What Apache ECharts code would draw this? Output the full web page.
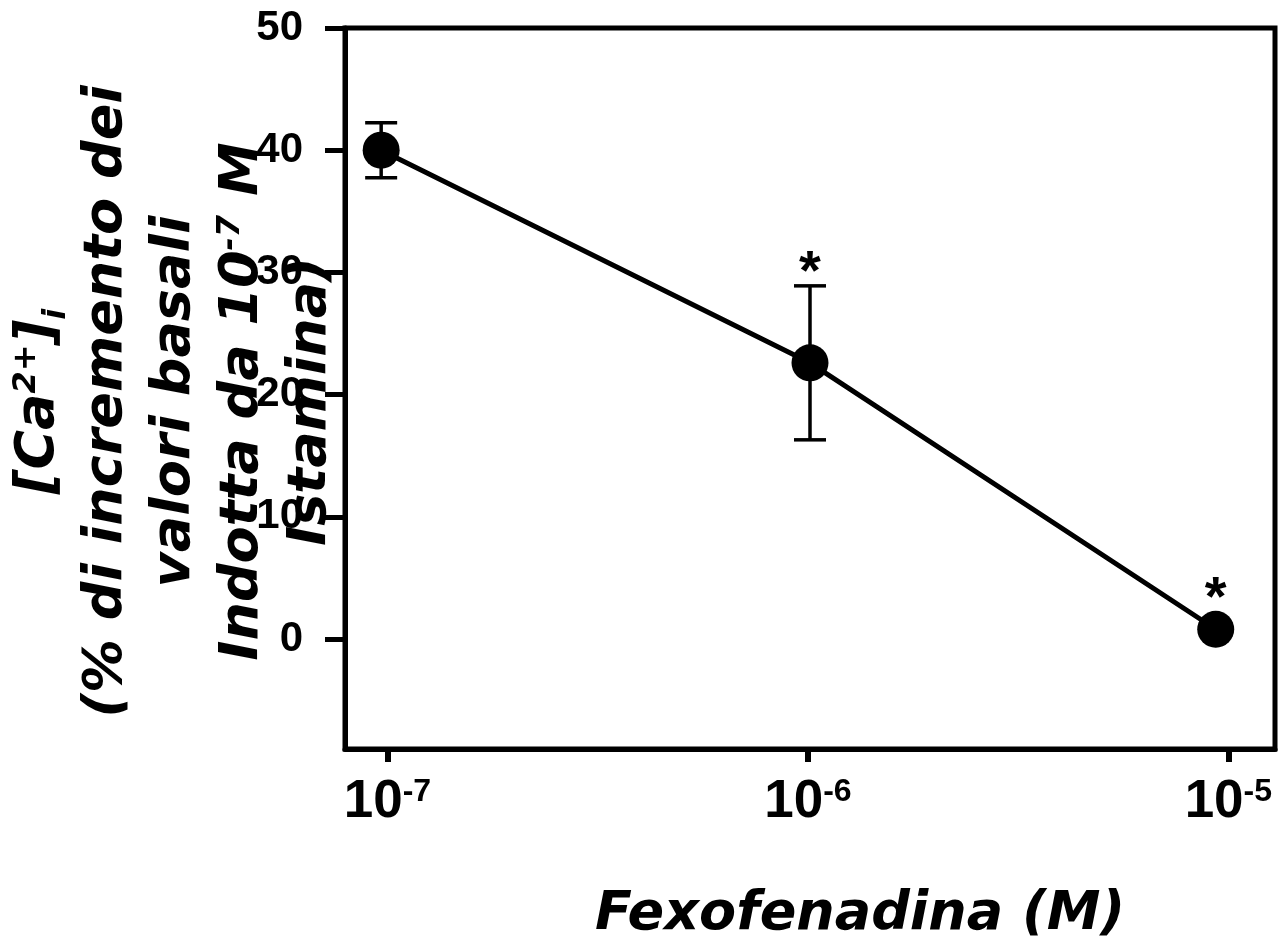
<!DOCTYPE html>
<html><head><meta charset="utf-8">
<script src="https://cdn.jsdelivr.net/npm/echarts@6/dist/echarts.min.js"></script>
<style>html,body{margin:0;padding:0;background:#fff}#c{width:1285px;height:937px}</style>
</head><body><div id="c"></div>
<script>
// Data (x stored as log10 of molar concentration)
const logConc = [-7.015, -5.995, -5.03];
const caResp = [40, 22.6, 0.8];
const caSem = [2.25, 6.3, 0];
const signif = ['', '*', '*'];
const xTickExp = [-7, -6, -5];
const yTicks = [0, 10, 20, 30, 40, 50];
const xTitle = 'Fexofenadina (M)';
const yTitleLines = ['[Ca{sup|2+}]{sub|i}', '(% di incremento dei', 'valori basali', 'Indotta da 10{sup|-7} M', 'Istamina)'];

const titleFont = {fontFamily: 'DejaVu Sans', fontWeight: 'bold', fontStyle: 'italic', color: '#000'};
const chart = echarts.init(document.getElementById('c'), null, {renderer: 'canvas'});
chart.setOption({
  animation: false,
  backgroundColor: '#fff',
  grid: {left: 345, right: 10, top: 28, bottom: 188, show: true, borderColor: '#000', borderWidth: 5, containLabel: false, outerBoundsMode: 'none'},
  xAxis: {
    type: 'value', min: -7.101, max: -4.889,
    axisLine: {show: true, onZero: false, lineStyle: {color: '#000', width: 5}},
    axisTick: {show: true, length: 13, lineStyle: {color: '#000', width: 6}, customValues: xTickExp},
    splitLine: {show: false},
    axisLabel: {
      customValues: xTickExp, margin: 27,
      formatter: v => '{b|10}{s|' + v + '}',
      rich: {
        b: {fontFamily: 'Liberation Sans', fontWeight: 'bold', fontSize: 53, color: '#000'},
        s: {fontFamily: 'Liberation Sans', fontWeight: 'bold', fontSize: 32, color: '#000', verticalAlign: 'top'}
      }
    },
    name: xTitle, nameLocation: 'middle', nameGap: 139, nameMoveOverlap: false,
    nameTextStyle: Object.assign({fontSize: 54, padding: [0, 0, 0, 100]}, titleFont)
  },
  yAxis: {
    type: 'value', min: -9, max: 50,
    axisLine: {show: true, onZero: false, lineStyle: {color: '#000', width: 5}},
    axisTick: {show: true, length: 20, lineStyle: {color: '#000', width: 5}, customValues: yTicks},
    splitLine: {show: false},
    axisLabel: {customValues: yTicks, margin: 42, fontFamily: 'Liberation Sans', fontWeight: 'bold', fontSize: 42, color: '#000'},
    name: yTitleLines.join('\n'), nameLocation: 'middle', nameRotate: 90, nameGap: 0, nameMoveOverlap: false,
    nameTextStyle: Object.assign({fontSize: 54, lineHeight: 68, padding: [0, 26, 0, 0],
      rich: {
        sup: Object.assign({fontSize: 32, lineHeight: 40, verticalAlign: 'top', padding: [6, 0, 0, 0]}, titleFont),
        sub: Object.assign({fontSize: 32, lineHeight: 40, verticalAlign: 'bottom'}, titleFont)
      }}, titleFont)
  },
  series: [
    {
      type: 'custom', z: 2,
      data: logConc.map((x, i) => [x, caResp[i], caSem[i]]),
      encode: {x: 0, y: 1},
      renderItem: (params, api) => {
        const x = api.value(0), v = api.value(1), e = api.value(2);
        const pc = api.coord([x, v]);
        const top = api.coord([x, v + e]);
        const bot = api.coord([x, v - e]);
        const st = {stroke: '#000', lineWidth: 3.5};
        const children = [];
        if (e > 0) {
          children.push({type: 'line', shape: {x1: pc[0], y1: top[1], x2: pc[0], y2: bot[1]}, style: st});
          children.push({type: 'line', shape: {x1: pc[0] - 16, y1: top[1], x2: pc[0] + 16, y2: top[1]}, style: st});
          children.push({type: 'line', shape: {x1: pc[0] - 16, y1: bot[1], x2: pc[0] + 16, y2: bot[1]}, style: st});
        }
        const s = signif[params.dataIndex];
        if (s) {
          children.push({type: 'text', style: {text: s, x: pc[0], y: Math.min(top[1], pc[1] - 18) - 12,
            align: 'center', verticalAlign: 'middle', font: 'bold 56px "Liberation Sans"', fill: '#000'}});
        }
        return {type: 'group', children};
      }
    },
    {
      type: 'line', z: 3,
      data: logConc.map((x, i) => [x, caResp[i]]),
      symbol: 'circle', symbolSize: 37,
      lineStyle: {color: '#000', width: 5},
      itemStyle: {color: '#000'}
    }
  ]
});
</script></body></html>
